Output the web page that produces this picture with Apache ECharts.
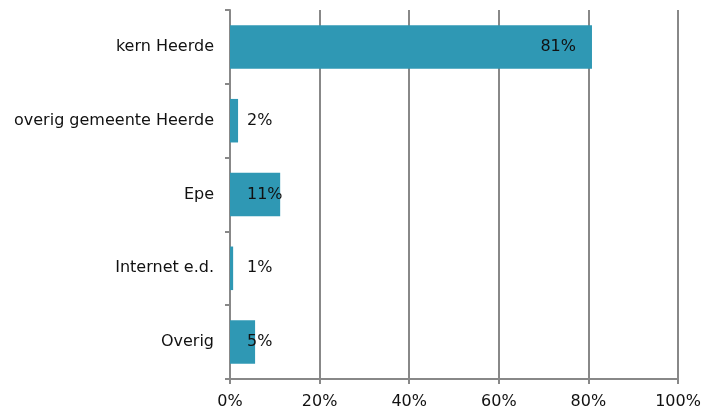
<!DOCTYPE html>
<html><head><meta charset="utf-8">
<script src="https://cdn.jsdelivr.net/npm/echarts@6/dist/echarts.min.js"></script>
<style>html,body{margin:0;padding:0;background:#fff}#c{width:704px;height:407px}</style>
</head><body><div id="c"></div>
<script>
const categories = ["kern Heerde", "overig gemeente Heerde", "Epe", "Internet e.d.", "Overig"];
const values = [80.8, 1.8, 11.2, 0.7, 5.6];
const valueLabels = ["81%", "2%", "11%", "1%", "5%"];
const xTicks = [0, 20, 40, 60, 80, 100];

const chart = echarts.init(document.getElementById('c'), null, {renderer: 'canvas'});
const font = "'DejaVu Sans', Verdana, sans-serif";
const n = categories.length;
chart.setOption({
  animation: false,
  grid: {left: 230, right: 26, top: 10, bottom: 28, containLabel: false, outerBoundsMode: 'none'},
  xAxis: {
    type: 'value', min: 0, max: 100, interval: 20,
    axisLine: {show: true, lineStyle: {color: '#888', width: 2}},
    axisTick: {show: true, length: 5, lineStyle: {color: '#888', width: 2}},
    splitLine: {show: true, lineStyle: {color: '#888', width: 2}},
    axisLabel: {formatter: v => xTicks.includes(v) ? v + '%' : '', color: '#111', fontFamily: font, fontSize: 16, margin: 15}
  },
  yAxis: {
    type: 'category', data: categories.slice().reverse(),
    axisLine: {show: true, lineStyle: {color: '#888', width: 2}},
    axisTick: {show: true, length: 5, lineStyle: {color: '#888', width: 2}},
    axisLabel: {color: '#111', fontFamily: font, fontSize: 16, margin: 16}
  },
  series: [{
    type: 'bar', barWidth: '59%',
    data: values.slice().reverse().map((v, i) => ({
      value: v,
      label: Object.assign({formatter: valueLabels[n - 1 - i]},
        v > 50 ? {position: 'insideRight', distance: 16} : {position: 'insideLeft', distance: 17})
    })),
    itemStyle: {color: '#2F98B4'},
    label: {show: true, color: '#111', fontFamily: font, fontSize: 16}
  }]
});
</script></body></html>
